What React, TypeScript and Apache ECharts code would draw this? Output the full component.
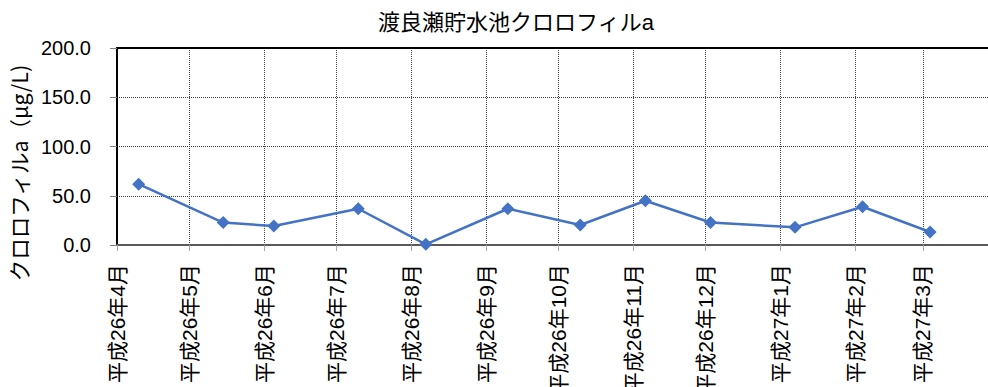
import React, { useEffect, useRef } from "react";
import * as echarts from "echarts";

// Sampling dates and chlorophyll-a concentrations (μg/L)
const sampleDates = [
  "2014-04-10", "2014-05-15", "2014-06-05", "2014-07-10", "2014-08-07", "2014-09-10",
  "2014-10-10", "2014-11-06", "2014-12-03", "2015-01-07", "2015-02-04", "2015-03-04",
];
const chlorophyllA = [61.8, 22.8, 19.3, 36.8, 0.7, 36.8, 20.3, 44.9, 22.8, 17.9, 38.8, 13.2];

// Month boundaries on the date axis and their labels
const monthStarts = [
  "2014-04-01", "2014-05-01", "2014-06-01", "2014-07-01", "2014-08-01", "2014-09-01",
  "2014-10-01", "2014-11-01", "2014-12-01", "2015-01-01", "2015-02-01", "2015-03-01",
];
const monthLabels = [
  "平成26年4月", "平成26年5月", "平成26年6月", "平成26年7月", "平成26年8月", "平成26年9月",
  "平成26年10月", "平成26年11月", "平成26年12月", "平成27年1月", "平成27年2月", "平成27年3月",
];
const axisStart = "2014-04-01";
const axisEnd = "2015-03-28";

const yMin = 0;
const yMax = 200;
const yStep = 50;

const FONT = '"Liberation Sans", "Noto Sans CJK JP", sans-serif';
const CJK_FONT = '"Noto Sans CJK JP", "Liberation Sans", sans-serif';

// Days elapsed since the start of the axis (x is a day count)
const dayOf = (s: string) => {
  const [y, m, d] = s.split("-").map(Number);
  const [y0, m0, d0] = axisStart.split("-").map(Number);
  return Math.round((Date.UTC(y, m - 1, d) - Date.UTC(y0, m0 - 1, d0)) / 86400000);
};

export default function App() {
  const ref = useRef<HTMLDivElement>(null);

  useEffect(() => {
    if (!ref.current) return;
    const chart = echarts.init(ref.current, undefined, { renderer: "svg" });
    const monthDays = monthStarts.map(dayOf);
    const data = sampleDates.map((d, i) => [dayOf(d), chlorophyllA[i]]);

    chart.setOption({
      animation: false,
      backgroundColor: "#ffffff",
      title: {
        text: "渡良瀬貯水池クロロフィルa",
        left: 511,
        top: 6,
        textAlign: "center",
        textStyle: { fontSize: 22, fontWeight: "normal", color: "#000", fontFamily: FONT },
      },
      graphic: [
        {
          type: "text",
          x: 18,
          y: 173,
          rotation: Math.PI / 2,
          style: {
            text: "クロロフィルa（μg/L)",
            fontSize: 21.5,
            fontFamily: CJK_FONT,
            fill: "#000",
            textAlign: "center",
            textVerticalAlign: "middle",
          },
        },
      ],
      grid: { left: 117, right: 0, top: 48, bottom: 142, outerBoundsMode: "none", containLabel: false },
      xAxis: [
        {
          type: "value",
          min: dayOf(axisStart),
          max: dayOf(axisEnd),
          axisLine: { show: true, onZero: false, lineStyle: { color: "#595959", width: 2 } },
          axisTick: {
            show: true,
            customValues: monthDays,
            length: 6,
            lineStyle: { color: "#a6a6a6", width: 1 },
          },
          axisLabel: {
            customValues: monthDays,
            rotate: 90,
            margin: 19,
            fontSize: 21,
            color: "#000",
            fontFamily: FONT,
            formatter: (v: number) => {
              const i = monthDays.indexOf(v);
              return i >= 0 ? monthLabels[i] : "";
            },
          },
          splitLine: { show: true, lineStyle: { type: "dotted", color: "#404040", width: 1 } },
        },
        {
          type: "value",
          position: "top",
          min: dayOf(axisStart),
          max: dayOf(axisEnd),
          axisLine: { show: true, onZero: false, lineStyle: { color: "#000", width: 2 } },
          axisTick: { show: false },
          axisLabel: { show: false },
          splitLine: { show: false },
        },
      ],
      yAxis: {
        type: "value",
        min: yMin,
        max: yMax,
        interval: yStep,
        axisLine: { show: true, lineStyle: { color: "#000", width: 2 } },
        axisTick: { show: true, length: 7, lineStyle: { color: "#7f7f7f" } },
        axisLabel: {
          margin: 26,
          fontSize: 20,
          color: "#000",
          fontFamily: FONT,
          formatter: (v: number) => v.toFixed(1),
        },
        splitLine: { show: true, lineStyle: { type: "dotted", color: "#404040", width: 1 } },
      },
      series: [
        {
          type: "line",
          xAxisIndex: 0,
          data,
          symbol: "diamond",
          symbolSize: 13,
          lineStyle: { color: "#4472C4", width: 2.5 },
          itemStyle: { color: "#4472C4" },
        },
      ],
    });

    return () => chart.dispose();
  }, []);

  return (
    <div
      ref={ref}
      style={{ position: "absolute", left: 0, top: 0, width: 988, height: 387 }}
    />
  );
}
